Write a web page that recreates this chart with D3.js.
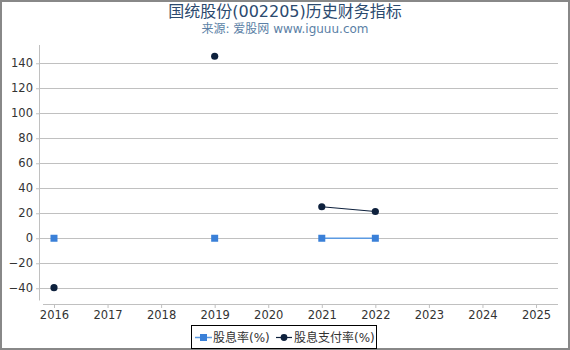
<!DOCTYPE html>
<html><head><meta charset="utf-8">
<script src="https://cdn.jsdelivr.net/npm/d3@7/dist/d3.min.js"></script>
<style>body{margin:0;background:#fff;} text{font-family:"DejaVu Sans","Noto Sans CJK SC",sans-serif;}</style>
</head><body>
<svg id="c" width="570" height="350"></svg>
<script>
const years = [2016, 2017, 2018, 2019, 2020, 2021, 2022, 2023, 2024, 2025];
const dividendYield = [0, null, null, 0, null, 0, 0, null, null, null];
const payoutRatio = [-39.5, null, null, 145.6, null, 25.2, 21.4, null, null, null];
const yTicks = [-40, -20, 0, 20, 40, 60, 80, 100, 120, 140];
const seriesNames = ["股息率(%)", "股息支付率(%)"];
const titleText = "国统股份(002205)历史财务指标";
const subtitleText = "来源: 爱股网 www.iguuu.com";

const svg = d3.select("#c");
svg.append("rect").attr("x",1).attr("y",1).attr("width",568).attr("height",348)
  .attr("fill","#fff").attr("stroke","#888").attr("stroke-width",2);

const x = d3.scaleLinear().domain([2016 - 11/53.6, 2025 + 22/53.6]).range([43, 558]);
const y = d3.scaleLinear().domain([-49.8, 154.6]).range([300.5, 45]);

// grid
svg.append("g").selectAll("line").data(yTicks).join("line")
  .attr("x1", 40).attr("x2", 558).attr("y1", d=>y(d)).attr("y2", d=>y(d))
  .attr("stroke","#c0c0c0").attr("stroke-width",1).attr("shape-rendering","crispEdges");

// y axis
const ya = svg.append("g").attr("transform","translate(40,0)")
  .call(d3.axisLeft(y).tickValues(yTicks).tickSize(4).tickPadding(3));
ya.select(".domain").attr("stroke","#c0c0c0").attr("d", `M-0.5,${45}V${300.5}`);
ya.selectAll(".tick line").attr("stroke","#c0c0c0");
ya.selectAll("text").attr("fill","#333").style("font-size","11.5px");

// x axis
const xa = svg.append("g").attr("transform","translate(0,304)")
  .call(d3.axisBottom(x).tickValues(years).tickFormat(d3.format("d")).tickSize(4).tickPadding(3));
xa.select(".domain").attr("stroke","#c0c0c0").attr("d","M43,0.5H558");
xa.selectAll(".tick line").attr("stroke","#c0c0c0");
xa.selectAll("text").attr("fill","#333").style("font-size","11.5px");

const c1 = "#3a80d8", c1l = "#5b9ae2", c2 = "#0e213d";

function drawLine(vals, color, w){
  const line = d3.line().defined(d=>d.v!=null).x(d=>x(d.yr)).y(d=>y(d.v));
  svg.append("path").datum(years.map((yr,i)=>({yr, v: vals[i]})))
    .attr("d", line).attr("fill","none").attr("stroke",color).attr("stroke-width",w);
}
drawLine(dividendYield, c1l, 1.5);
drawLine(payoutRatio, c2, 1.2);

const pts1 = years.map((yr,i)=>({yr, v: dividendYield[i]})).filter(d=>d.v!=null);
svg.append("g").selectAll("rect").data(pts1).join("rect")
  .attr("x", d=>x(d.yr)-3.5).attr("y", d=>y(d.v)-3.5).attr("width",7).attr("height",7).attr("fill",c1);
const pts2 = years.map((yr,i)=>({yr, v: payoutRatio[i]})).filter(d=>d.v!=null);
svg.append("g").selectAll("circle").data(pts2).join("circle")
  .attr("cx", d=>x(d.yr)).attr("cy", d=>y(d.v)).attr("r",3.6).attr("fill",c2);

// title
svg.append("text").attr("x",285).attr("y",17).attr("text-anchor","middle")
  .attr("fill","#2b4a6f").style("font-size","16px").text(titleText);
svg.append("text").attr("x",285).attr("y",33).attr("text-anchor","middle")
  .attr("fill","#5b7fa6").style("font-size","12px").text(subtitleText);

// legend
const lg = svg.append("g");
lg.append("rect").attr("x",191.5).attr("y",325.5).attr("width",185).attr("height",23)
  .attr("fill","#fff").attr("stroke","#000").attr("stroke-width",1);
lg.append("line").attr("x1",195).attr("x2",212).attr("y1",337.5).attr("y2",337.5).attr("stroke",c1l).attr("stroke-width",1.5);
lg.append("rect").attr("x",200).attr("y",334).attr("width",7).attr("height",7).attr("fill",c1);
lg.append("text").attr("x",213).attr("y",342).attr("fill","#333").style("font-size","12px").text(seriesNames[0]);
lg.append("line").attr("x1",276).attr("x2",292).attr("y1",337.5).attr("y2",337.5).attr("stroke",c2).attr("stroke-width",1.2);
lg.append("circle").attr("cx",284).attr("cy",337.5).attr("r",3.4).attr("fill",c2);
lg.append("text").attr("x",294).attr("y",342).attr("fill","#333").style("font-size","12px").text(seriesNames[1]);
</script>
</body></html>
